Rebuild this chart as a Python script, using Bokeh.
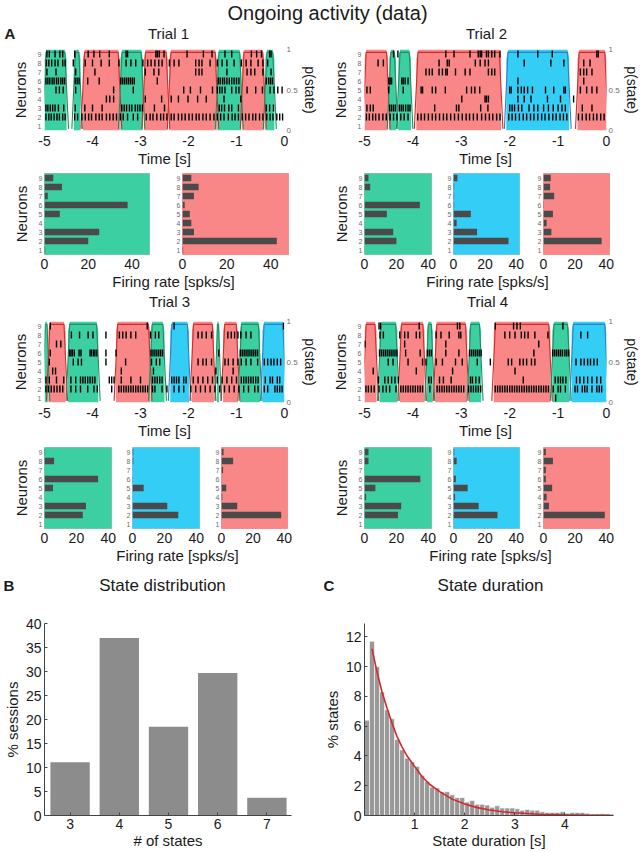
import numpy as np
from bokeh.plotting import figure
from bokeh.layouts import column, row
from bokeh.models import Range1d, LinearAxis, FixedTicker
from bokeh.core.properties import value
from bokeh.embed import file_html
from bokeh.resources import INLINE

# ---------------- data ----------------
neurons = [1, 2, 3, 4, 5, 6, 7, 8, 9]

# spike times [s] per neuron (index 0 = neuron 1)
spikes_trial1 = [
    [],
    [-4.97, -4.91, -4.86, -4.8, -4.74, -4.69, -4.62, -4.57, -4.37, -4.31, -4.22, -4.15, -4.08, -4.02, -3.93, -3.86, -3.8, -3.71,
     -3.64, -3.57, -3.5, -3.42, -3.36, -3.27, -3.15, -3.06, -2.88, -2.8, -2.74, -2.66, -2.58, -2.52, -2.45, -2.36, -2.3, -2.21,
     -2.14, -2.07, -1.99, -1.92, -1.84, -1.78, -1.7, -1.63, -1.55, -1.47, -1.4, -1.33, -1.26, -1.17, -1.09, -1.03, -0.96, -0.88,
     -0.81, -0.74, -0.66, -0.6, -0.52, -0.45, -0.37, -0.3, -0.24, -0.16, -0.1, -0.04],
    [-4.97, -4.93, -4.88, -4.83, -4.78, -4.71, -4.6, -4.36, -4.16, -4.0, -3.8, -3.39, -3.34, -3.29, -3.23, -3.18, -3.11, -3.06,
     -3.01, -2.96, -2.71, -2.5, -1.36, -1.31, -1.25, -1.16, -1.1, -0.96, -0.38, -0.31, -0.23],
    [-3.71, -3.64, -3.56, -2.9, -2.56, -2.36, -2.21, -2.01, -1.81, -1.63, -1.26, -0.91],
    [-4.76, -4.69, -4.61, -4.35, -3.56, -3.15, -2.1, -1.96, -1.75, -1.5, -1.4, -1.35, -1.3, -1.24, -1.1, -1.01, -0.95, -0.78,
     -0.6, -0.46, -0.3, -0.22, -0.14, -0.05],
    [-4.97, -4.93, -4.89, -4.84, -4.8, -4.75, -4.71, -4.66, -4.62, -4.58, -4.36, -4.32, -4.28, -4.1, -3.86, -3.41, -3.37, -3.33,
     -3.29, -3.25, -3.21, -3.17, -3.13, -2.65, -1.38, -1.34, -1.29, -1.25, -1.2, -1.15, -1.1, -1.05, -1.0, -0.95, -0.38, -0.33,
     -0.29, -0.25],
    [-4.95, -4.76, -4.35, -3.95, -2.9, -2.72, -2.62, -1.85, -1.78, -1.72, -1.2, -0.78, -0.7, -0.62, -0.45, -0.28],
    [-4.96, -4.91, -4.85, -4.78, -4.72, -4.62, -4.57, -4.4, -4.15, -4.0, -3.82, -3.65, -3.45, -3.3, -3.2, -3.1, -2.95, -2.85,
     -2.78, -2.7, -2.62, -2.55, -2.4, -2.3, -2.2, -1.85, -1.78, -1.72, -1.55, -1.4, -1.3, -1.2, -1.05, -0.9, -0.8, -0.7, -0.55,
     -0.45, -0.35],
    [-4.95, -4.9, -4.78, -4.68, -4.62, -4.37, -4.09, -3.97, -3.85, -3.65, -3.3, -3.27, -2.68, -2.65, -2.61, -2.51, -2.03, -1.69,
     -1.51, -1.24, -1.1, -0.69, -0.58, -0.48, -0.31, -0.28],
]
spikes_trial2 = [
    [],
    [-4.96, -4.9, -4.83, -4.77, -4.7, -4.62, -4.55, -4.47, -4.4, -4.33, -4.25, -4.18, -4.1, -3.9, -3.83, -3.76, -3.68, -3.6,
     -3.53, -3.45, -3.37, -3.3, -3.22, -3.14, -3.06, -2.98, -2.9, -2.83, -2.75, -2.67, -2.58, -2.5, -2.42, -2.35, -2.27, -2.2,
     -2.02, -1.95, -1.88, -1.8, -1.72, -1.65, -1.57, -1.5, -1.42, -1.34, -1.27, -1.19, -1.11, -1.04, -0.96, -0.89, -0.82, -0.58,
     -0.5, -0.42, -0.35, -0.27, -0.2, -0.12, -0.05],
    [-4.95, -4.88, -4.82, -4.48, -4.44, -4.4, -4.36, -4.28, -4.24, -4.2, -4.15, -4.1, -4.06, -3.55, -3.1, -3.05, -2.6, -2.45,
     -2.0, -1.95, -1.9, -1.82, -1.75, -1.6, -1.5, -1.42, -1.3, -1.2, -1.1, -1.0, -0.92, -0.85, -0.5, -0.3],
    [-2.99, -2.51, -2.48, -2.44, -1.83, -1.7, -1.56, -1.22, -0.95, -0.68],
    [-4.95, -4.88, -4.5, -4.2, -3.83, -3.8, -3.6, -3.53, -3.33, -2.89, -2.79, -2.72, -2.62, -2.0, -1.97, -1.83, -1.76, -1.7,
     -1.63, -1.53, -1.26, -1.09, -0.88, -0.85, -0.54, -0.41, -0.3, -0.2],
    [-4.5, -4.47, -4.44, -4.23, -4.2, -4.16, -4.1, -1.83, -0.47],
    [-3.73, -3.66, -3.6, -3.46, -3.39, -3.32, -3.29, -3.12, -2.92, -2.82, -2.44, -2.37, -2.31, -0.54, -0.47, -0.41, -0.3],
    [-4.72, -4.61, -3.46, -3.29, -3.25, -2.71, -2.61, -2.51, -2.44, -1.7, -1.15, -0.88, -0.47, -0.34],
    [-4.4, -4.31, -3.32, -3.15, -2.82, -2.65, -2.61, -2.58, -2.48, -2.44, -2.37, -2.31, -2.2, -1.83, -1.42, -1.12, -0.2, -0.17],
]
spikes_trial3 = [
    [],
    [-4.97, -4.92, -4.86, -4.8, -4.74, -4.68, -4.62, -4.45, -4.35, -4.25, -4.1, -3.97, -3.9, -3.6, -3.45, -3.4, -3.35, -3.3,
     -3.25, -3.2, -3.15, -3.1, -3.05, -3.0, -2.95, -2.9, -2.85, -2.75, -2.7, -2.55, -2.45, -2.3, -2.2, -2.1, -1.95, -1.85,
     -1.75, -1.65, -1.55, -1.45, -1.35, -1.25, -1.15, -1.05, -0.95, -0.85, -0.75, -0.62, -0.55, -0.42, -0.35, -0.2, -0.15,
     -0.1, -0.05],
    [-4.97, -4.9, -4.75, -4.6, -4.45, -4.35, -4.25, -4.2, -4.15, -4.1, -4.05, -4.0, -3.95, -3.65, -3.6, -3.55, -3.4, -3.2,
     -3.0, -2.75, -2.7, -2.65, -2.6, -2.55, -2.35, -2.3, -2.25, -2.2, -2.1, -2.05, -1.9, -1.8, -1.7, -1.6, -1.5, -1.4, -1.3,
     -1.2, -1.1, -1.0, -0.9, -0.85, -0.8, -0.75, -0.7, -0.65, -0.6, -0.55, -0.4, -0.3, -0.25, -0.15, -0.1],
    [-4.83, -4.77, -3.4, -2.73, -1.43, -1.07],
    [-4.9, -4.4, -4.3, -4.23, -3.72, -3.31, -2.77, -2.67, -2.6, -1.8, -1.7, -1.63, -1.52, -1.24, -1.17, -1.07, -0.97, -0.9,
     -0.8, -0.7, -0.56, -0.42, -0.35, -0.28, -0.22, -0.15, -0.08],
    [-4.88, -4.48, -4.45, -4.42, -4.38, -4.28, -4.24, -4.05, -4.02, -3.98, -3.95, -3.91, -3.72, -3.51, -2.78, -2.74, -2.7,
     -2.66, -2.62, -2.58, -2.54, -1.37, -0.92, -0.88, -0.84, -0.8, -0.76, -0.72, -0.68, -0.64, -0.6, -0.56],
    [-4.75, -4.66],
    [-4.44, -4.27, -4.09, -3.99, -3.72, -3.44, -3.37, -3.3, -3.2, -3.1, -2.79, -2.69, -2.62, -1.8, -1.72, -1.63, -1.52,
     -1.18, -1.11, -1.04, -0.97, -0.91, -0.8, -0.7],
    [-4.88, -2.86, -2.3, -0.02],
]
spikes_trial4 = [
    [-1.05],
    [-4.97, -4.92, -4.86, -4.8, -4.7, -4.62, -4.55, -4.48, -4.35, -4.25, -4.2, -4.15, -4.1, -4.05, -4.0, -3.95, -3.9, -3.85,
     -3.8, -3.65, -3.5, -3.45, -3.4, -3.35, -3.3, -3.25, -3.2, -3.15, -3.1, -3.05, -3.0, -2.95, -2.85, -2.8, -2.75, -2.7,
     -2.65, -2.6, -2.3, -2.25, -2.2, -2.15, -2.1, -2.05, -2.0, -1.95, -1.9, -1.85, -1.8, -1.75, -1.7, -1.65, -1.6, -1.55,
     -1.5, -1.45, -1.4, -1.35, -1.3, -1.25, -1.2, -1.1, -1.0, -0.95, -0.85, -0.65, -0.6, -0.5, -0.45, -0.4, -0.3, -0.2,
     -0.15, -0.1],
    [-4.71, -4.58, -4.51, -4.44, -4.37, -4.3, -3.67, -3.62, -3.45, -3.37, -3.21, -2.81, -2.77, -2.7, -2.63, -1.72, -1.06,
     -1.0, -0.95, -0.9, -0.84, -0.62, -0.55, -0.47, -0.39, -0.3, -0.2, -0.12],
    [-4.82, -3.93, -3.18, -1.89],
    [-4.51, -4.41, -4.1, -3.8, -3.73, -3.52, -3.39, -3.12, -2.98, -2.67, -2.4, -2.03, -1.96, -1.79, -1.72, -1.65, -1.55,
     -1.48, -0.63, -0.53, -0.46, -0.39, -0.33, -0.26, -0.19],
    [-4.69, -4.65, -4.61, -4.57, -4.53, -4.49, -4.45, -4.41, -4.37, -4.33, -4.15, -3.85, -3.7, -3.66, -3.62, -3.32, -3.05,
     -2.83, -2.79, -2.75, -2.71, -2.67, -2.63, -2.59, -1.5, -1.11, -1.07, -1.03, -0.99, -0.95, -0.91, -0.86, -0.82, -0.78],
    [-4.99, -4.17, -3.32, -1.4],
    [-4.68, -4.61, -4.27, -4.17, -4.1, -3.93, -3.86, -3.52, -3.42, -3.25, -3.05, -3.01, -2.1, -2.0, -1.89, -1.76, -1.69,
     -1.62, -1.48, -1.21, -0.53, -0.39],
    [-4.7, -4.67, -3.87, -3.08, -3.03, -2.3, -1.92, -1.85, -1.78, -0.9],
]

# hidden-state segments (start, end, state: g/r/b)
seg1_start = [-5.0, -4.39, -4.2, -3.42, -2.93, -2.4, -1.4, -0.88, -0.4]
seg1_end = [-4.54, -4.25, -3.43, -2.95, -2.43, -1.41, -0.9, -0.42, -0.21]
seg1_state = ["g", "g", "r", "g", "r", "r", "g", "r", "g"]
seg2_start = [-5.0, -4.49, -4.3, -3.93, -2.07, -0.6]
seg2_end = [-4.51, -4.35, -4.04, -2.18, -0.77, 0.0]
seg2_state = ["r", "g", "g", "r", "b", "r"]
seg3_start = [-5.0, -4.92, -4.51, -3.51, -2.79, -2.38, -1.93, -1.41, -1.28, -0.93, -0.46]
seg3_end = [-4.93, -4.56, -3.88, -2.8, -2.5, -1.99, -1.47, -1.36, -0.97, -0.51, 0.0]
seg3_state = ["g", "r", "g", "r", "g", "b", "r", "g", "r", "g", "b"]
seg4_start = [-5.0, -4.69, -4.27, -3.71, -3.54, -2.84, -2.33, -1.12, -0.72]
seg4_end = [-4.75, -4.32, -3.76, -3.59, -2.88, -2.59, -1.16, -0.77, 0.0]
seg4_state = ["r", "g", "r", "g", "r", "g", "r", "g", "b"]

# firing rates [spks/s], neurons 1..9
rate_t1_green = [0.3, 20, 25, 0, 7, 38, 1.5, 8, 4]
rate_t1_red = [0.3, 42.7, 5.2, 4, 3.3, 1, 5.2, 7.3, 4]
rate_t2_green = [0, 20, 18, 0, 14, 34.7, 0, 3.6, 2.5]
rate_t2_blue = [0, 35, 15, 2, 11, 0.4, 0.4, 0.4, 2.5]
rate_t2_red = [0, 37, 5, 2, 6, 0.3, 6.8, 4.2, 4.6]
rate_t3_green = [0, 24, 26, 0, 5.3, 33.6, 0, 6, 0.4]
rate_t3_blue = [0, 28.7, 21.8, 0, 7, 0.2, 0, 0.5, 0.5]
rate_t3_red = [0, 38, 10, 0.5, 3, 0, 1, 7.4, 1.3]
rate_t4_green = [0, 21, 23, 1, 6.8, 35, 0, 2.5, 2.5]
rate_t4_blue = [0, 28, 16, 1, 9, 1.5, 0, 2, 0.5]
rate_t4_red = [0, 39, 3.5, 2, 5.5, 1.5, 1.5, 6, 1.5]

# B: state distribution
n_states = [3, 4, 5, 6, 7]
pct_sessions = [11.1, 37.0, 18.5, 29.7, 3.7]

# C: state duration histogram (bins of 0.1 s from 0 to 5 s)
dur_bin_width = 0.1
dur_pct = [6.4, 11.7, 10.0, 8.3, 7.1, 6.5, 5.1, 4.4, 3.85, 3.6,
           3.3, 2.7, 2.3, 1.9, 1.85, 1.6, 1.6, 1.4, 1.2, 1.2,
           0.9, 1.0, 0.75, 0.75, 0.7, 0.55, 0.65, 0.5, 0.5, 0.5,
           0.45, 0.35, 0.4, 0.35, 0.35, 0.25, 0.2, 0.2, 0.2, 0.25,
           0.15, 0.2, 0.2, 0.2, 0.15, 0.1, 0.1, 0.12, 0.1, 0.1]
fit_x = [0.15, 0.25, 0.35, 0.45, 0.55, 0.65, 0.75, 0.85, 1.0, 1.15, 1.3, 1.5, 1.75, 2.0, 2.25, 2.5, 2.75, 3.0, 3.5, 4.0, 4.5, 4.9]
fit_y = [11.2, 9.65, 8.3, 7.2, 6.2, 5.3, 4.6, 4.0, 3.3, 2.6, 2.1, 1.6, 1.1, 0.77, 0.53, 0.37, 0.25, 0.18, 0.08, 0.04, 0.02, 0.01]

# ---------------- style ----------------
FONT = "Liberation Sans"
TXT = "#1a1a1a"
GRAY = "#6e6e6e"
FILL = {"g": "#3bcfa2", "r": "#f98787", "b": "#34cdf6"}
EDGE = {"g": "#1f8f60", "r": "#d42a2a", "b": "#2f80c4"}


def base_fig(w, h, bl, br, bt, bb, xr, yr, **kw):
    p = figure(width=w, height=h, x_range=xr, y_range=yr, output_backend="svg",
               toolbar_location=None, min_border_left=bl, min_border_right=br,
               min_border_top=bt, min_border_bottom=bb, **kw)
    p.xgrid.visible = False
    p.ygrid.visible = False
    p.outline_line_color = None
    return p


def style_axis(ax, label_size=14, tick_size=13, tick_color=TXT, show_line=False,
               tick_standoff=3, label_standoff=2):
    ax.axis_label_text_font = FONT
    ax.axis_label_text_font_style = "normal"
    ax.axis_label_text_font_size = f"{label_size}px"
    ax.axis_label_text_color = TXT
    ax.major_label_text_font = FONT
    ax.major_label_text_font_size = f"{tick_size}px"
    ax.major_label_text_color = tick_color
    ax.major_label_standoff = tick_standoff
    ax.axis_label_standoff = label_standoff
    ax.minor_tick_line_color = None
    ax.minor_tick_in = 0
    ax.minor_tick_out = 0
    if show_line:
        ax.axis_line_color = "#444444"
        ax.major_tick_line_color = "#444444"
        ax.major_tick_in = 3
        ax.major_tick_out = 0
    else:
        ax.axis_line_color = None
        ax.major_tick_line_color = None
        ax.major_tick_in = 0
        ax.major_tick_out = 0


def raster_fig(spikes, starts, ends, states, w, bl, br, bt, bb):
    p = base_fig(w, 81 + bt + bb, bl, br, bt, bb, Range1d(-5, 0), Range1d(0.5, 9.5))
    p.extra_y_ranges = {"p": Range1d(0, 1)}
    xs, ys, fc, lxs, lys, lc = [], [], [], [], [], []
    for s, e, st in zip(starts, ends, states):
        r = min(0.035, (e - s) / 4)
        xs.append([s, s, s + r, e - r, e, e])
        ys.append([0, 0.88, 1, 1, 0.88, 0])
        fc.append(FILL[st])
        lxs.append([s - 0.04, s + r, e - r, e + 0.04])
        lys.append([0.02, 0.965, 0.965, 0.02])
        lc.append(EDGE[st])
    p.patches(xs=xs, ys=ys, fill_color=fc, line_color=None, y_range_name="p")
    p.multi_line(xs=lxs, ys=lys, line_color=lc, line_width=1.1, y_range_name="p")
    sx, y0, y1 = [], [], []
    for n, times in zip(neurons, spikes):
        for t in times:
            sx.append(t)
            y0.append(n - 0.38)
            y1.append(n + 0.38)
    p.segment(x0=sx, y0=y0, x1=sx, y1=y1, line_color="black", line_width=1.4)

    p.yaxis.ticker = FixedTicker(ticks=neurons)
    p.yaxis.axis_label = "Neurons"
    style_axis(p.yaxis[0], label_size=15, tick_size=7, tick_color=GRAY, tick_standoff=3, label_standoff=6)
    ticks = [-5, -4, -3, -2, -1, 0]
    p.xaxis.ticker = FixedTicker(ticks=ticks)
    p.xaxis.major_label_overrides = {t: str(t) for t in ticks}
    p.xaxis.axis_label = "Time [s]"
    style_axis(p.xaxis[0], label_size=15, tick_size=14, tick_standoff=5, label_standoff=1)
    rax = LinearAxis(y_range_name="p", ticker=FixedTicker(ticks=[0, 0.5, 1]), axis_label="p(state)")
    rax.major_label_overrides = {0: "0", 0.5: "0.5", 1: "1"}
    style_axis(rax, label_size=14, tick_size=8, tick_color=GRAY, tick_standoff=2, label_standoff=1)
    p.add_layout(rax, "right")
    return p


def rate_fig(vals, st, w, bl, br, xmax, ylabel=None):
    p = base_fig(w, 105, bl, br, 4, 20, Range1d(0, xmax), Range1d(0.5, 9.5))
    p.background_fill_color = FILL[st]
    p.outline_line_color = EDGE[st]
    p.outline_line_alpha = 0.35
    p.hbar(y=neurons, left=0, right=vals, height=0.72, fill_color="#4a4a4a", line_color=None)
    p.yaxis.ticker = FixedTicker(ticks=neurons)
    if ylabel:
        p.yaxis.axis_label = ylabel
    style_axis(p.yaxis[0], label_size=15, tick_size=7, tick_color=GRAY, tick_standoff=2, label_standoff=6)
    p.xaxis.ticker = FixedTicker(ticks=[0, 20, 40])
    style_axis(p.xaxis[0], label_size=14, tick_size=14, tick_standoff=4)
    return p


def strip(w, h, items):
    p = figure(width=w, height=h, x_range=Range1d(0, w), y_range=Range1d(h, 0),
               output_backend="svg", toolbar_location=None, x_axis_location=None,
               y_axis_location=None, min_border=0)
    p.xgrid.visible = False
    p.ygrid.visible = False
    p.outline_line_color = None
    for (x, y, txt, size, style, align) in items:
        p.text(x=[x], y=[y], text=[txt], text_font=value(FONT), text_font_size=value(f"{size}px"),
               text_font_style=style, text_align=align, text_baseline="middle", text_color=TXT)
    return p


# ---------------- build ----------------
header = strip(642, 42, [
    (327, 12, "Ongoing activity (data)", 20, "normal", "center"),
    (4, 33, "A", 15, "bold", "left"),
    (168, 33, "Trial 1", 15, "normal", "center"),
    (486, 33, "Trial 2", 15, "normal", "center"),
])

r1 = raster_fig(spikes_trial1, seg1_start, seg1_end, seg1_state, 320, 44, 33, 7, 39)
r2 = raster_fig(spikes_trial2, seg2_start, seg2_end, seg2_state, 322, 44, 32, 7, 39)

f1a = rate_fig(rate_t1_green, "g", 160, 44, 11, 48, "Neurons")
f1b = rate_fig(rate_t1_red, "r", 160, 22, 32, 48)
f2a = rate_fig(rate_t2_green, "g", 121, 44, 10, 42, "Neurons")
f2b = rate_fig(rate_t2_blue, "b", 90, 12, 12, 42)
f2c = rate_fig(rate_t2_red, "r", 111, 12, 33, 42)

strip3 = strip(642, 38, [
    (173, 7, "Firing rate [spks/s]", 15, "normal", "center"),
    (487, 7, "Firing rate [spks/s]", 15, "normal", "center"),
    (169, 27, "Trial 3", 15, "normal", "center"),
    (487, 27, "Trial 4", 15, "normal", "center"),
])

r3 = raster_fig(spikes_trial3, seg3_start, seg3_end, seg3_state, 320, 44, 33, 9, 41)
r4 = raster_fig(spikes_trial4, seg4_start, seg4_end, seg4_state, 322, 44, 32, 9, 41)

f3a = rate_fig(rate_t3_green, "g", 122, 44, 11, 42, "Neurons")
f3b = rate_fig(rate_t3_blue, "b", 88, 10, 11, 42)
f3c = rate_fig(rate_t3_red, "r", 110, 11, 33, 42)
f4a = rate_fig(rate_t4_green, "g", 121, 44, 10, 42, "Neurons")
f4b = rate_fig(rate_t4_blue, "b", 90, 12, 12, 42)
f4c = rate_fig(rate_t4_red, "r", 111, 12, 33, 42)

strip6 = strip(642, 55, [
    (177, 7, "Firing rate [spks/s]", 15, "normal", "center"),
    (490, 7, "Firing rate [spks/s]", 15, "normal", "center"),
    (3, 37, "B", 15, "bold", "left"),
    (162, 37, "State distribution", 17, "normal", "center"),
    (323, 37, "C", 15, "bold", "left"),
    (490, 37, "State duration", 17, "normal", "center"),
])

# B
pB = base_fig(320, 248, 42, 29, 20, 34, Range1d(2.48, 7.5), Range1d(0, 40))
pB.vbar(x=n_states, top=pct_sessions, width=0.8, fill_color="#8c8c8c", line_color=None)
pB.xaxis.ticker = FixedTicker(ticks=n_states)
pB.xaxis.axis_label = "# of states"
pB.yaxis.ticker = FixedTicker(ticks=[0, 5, 10, 15, 20, 25, 30, 35, 40])
pB.yaxis.axis_label = "% sessions"
style_axis(pB.xaxis[0], label_size=15, tick_size=14, show_line=True, tick_standoff=3, label_standoff=0)
style_axis(pB.yaxis[0], label_size=15, tick_size=14, show_line=True, tick_standoff=3, label_standoff=2)

# C
bin_left = [round(i * dur_bin_width, 2) for i in range(len(dur_pct))]
bin_right = [round(b + dur_bin_width, 2) for b in bin_left]
pC = base_fig(322, 248, 43, 29, 19, 34, Range1d(0, 4.97), Range1d(0, 12.9))
pC.quad(left=bin_left, right=bin_right, bottom=0, top=dur_pct, fill_color="#999999",
        line_color="white", line_width=0.6)
pC.line(x=fit_x, y=fit_y, line_color="#d8262e", line_width=1.6)
pC.xaxis.ticker = FixedTicker(ticks=[1, 2, 3, 4])
pC.xaxis.axis_label = "State duration [s]"
pC.yaxis.ticker = FixedTicker(ticks=[0, 2, 4, 6, 8, 10, 12])
pC.yaxis.axis_label = "% states"
style_axis(pC.xaxis[0], label_size=15, tick_size=14, show_line=True, tick_standoff=3, label_standoff=0)
style_axis(pC.yaxis[0], label_size=15, tick_size=14, show_line=True, tick_standoff=3, label_standoff=2)

layout = column(
    header,
    row(r1, r2),
    row(f1a, f1b, f2a, f2b, f2c),
    strip3,
    row(r3, r4),
    row(f3a, f3b, f3c, f4a, f4b, f4c),
    strip6,
    row(pB, pC),
)

open("out.html", "w").write(file_html(layout, INLINE, title="Ongoing activity (data)"))
